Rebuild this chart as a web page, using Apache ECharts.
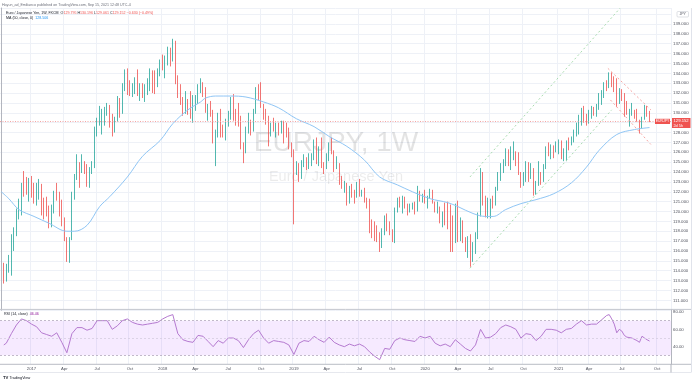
<!DOCTYPE html>
<html>
<head>
<meta charset="utf-8">
<script src="https://cdn.jsdelivr.net/npm/echarts@6/dist/echarts.min.js"></script>
<style>
html,body{margin:0;padding:0;background:#ffffff;}
#chart{width:695px;height:384px;}
</style>
</head>
<body>
<div id="chart"></div>
<script>
// ---------------- data ----------------
const firstWeek = '2016-10-10';
const totalWeeks = 266;           // 258 weekly bars + empty space on the right

const openP = [null,
114.4,113.1,114.3,114.9,116.5,117.9,119.9,120.8,122.6,122.4,
122.3,123.0,122.4,121.6,121.9,122.3,120.8,120.5,120.3,118.8,
120.5,121.9,121.5,119.9,118.6,117.1,115.4,117.2,121.4,123.4,
124.2,124.1,124.6,124.3,123.6,124.3,124.6,128.1,129.0,129.4,
129.7,130.0,130.4,128.8,128.4,129.4,130.7,130.0,132.6,134.2,
132.8,132.1,132.5,133.2,132.0,132.2,132.1,132.3,132.7,133.8,
133.2,132.8,134.0,135.2,135.0,135.5,136.4,135.4,137.2,133.3,
132.1,131.0,130.5,130.8,130.5,129.9,131.0,131.3,132.6,132.9,
132.2,130.1,130.2,130.0,127.5,127.8,129.6,128.3,128.1,129.3,
130.0,131.3,129.9,129.6,129.3,126.7,126.2,128.4,128.9,128.7,
130.1,132.4,131.9,130.7,129.9,129.3,127.9,128.6,128.5,128.6,
128.5,128.6,128.3,128.2,126.6,126.3,124.0,124.4,124.3,124.6,
125.2,124.7,124.7,125.5,127.0,124.9,126.4,124.7,124.6,125.6,
126.8,126.1,124.6,124.6,123.3,122.6,122.7,120.9,122.3,121.7,
121.6,122.6,121.8,122.1,121.1,120.6,118.5,118.1,117.9,117.8,
116.8,117.9,119.4,118.6,117.9,117.1,120.1,121.2,120.6,120.9,
120.6,120.4,120.4,120.7,120.2,122.0,121.3,121.5,121.0,121.3,
122.1,120.9,120.2,120.3,118.9,119.7,119.1,118.7,118.6,117.3,
120.1,117.4,119.0,117.0,116.3,117.4,115.6,115.9,117.3,119.7,
123.7,120.8,119.5,120.3,120.9,120.8,122.3,123.7,124.7,124.9,
126.2,124.7,125.4,125.7,125.6,123.8,122.8,123.3,124.9,123.5,
124.2,121.9,122.7,123.7,123.1,124.5,126.3,126.0,126.5,126.2,
126.2,127.0,125.5,126.3,127.0,126.8,127.1,127.8,128.8,129.0,
130.3,129.6,129.2,130.1,130.4,130.3,130.5,131.4,132.1,132.9,
132.6,133.9,133.3,132.9,131.0,132.2,131.7,130.7,129.9,130.1,
130.2,129.6,129.2,128.5,129.5,130.3,129.795];

const highP = [null,
114.8,114.7,115.6,117.7,118.4,120.3,121.3,122.9,124.1,123.5,
123.4,123.6,122.9,122.9,123.3,122.8,121.4,121.5,120.6,120.7,
122.1,122.9,122.0,121.2,119.4,117.4,117.4,122.0,123.8,125.8,
125.0,125.8,125.1,124.8,124.5,125.1,128.6,129.5,130.7,130.4,
130.6,131.0,130.8,129.9,129.6,131.7,131.5,133.0,134.4,134.5,
133.3,133.0,133.6,134.4,133.0,133.0,132.9,133.5,134.5,134.3,
134.3,134.5,135.4,135.9,135.8,136.7,136.6,137.5,137.3,133.8,
132.9,131.6,132.2,131.4,132.2,131.8,131.8,132.9,133.5,133.1,
132.6,130.9,131.2,130.3,128.3,130.0,130.4,128.8,129.4,130.2,
131.6,131.9,130.4,131.0,129.7,127.0,128.6,130.0,129.3,130.4,
132.6,132.9,133.1,130.9,130.4,129.7,129.0,129.5,129.0,129.0,
129.2,129.2,129.0,128.5,127.0,126.3,125.1,124.9,125.2,125.8,
125.5,125.9,125.9,127.3,127.5,126.6,127.5,125.0,125.9,127.0,
127.5,126.2,125.6,124.9,123.6,123.1,122.9,122.6,122.8,122.2,
123.0,123.3,122.2,122.4,121.4,121.3,119.2,119.0,118.6,117.9,
118.3,119.6,119.8,119.0,118.2,120.4,121.4,121.5,121.6,121.5,
120.8,120.8,120.9,121.0,122.6,122.1,121.8,122.2,121.6,122.3,
122.2,121.0,121.0,120.5,120.0,120.9,121.0,120.7,119.6,120.8,
121.1,119.4,119.1,117.4,117.5,117.7,116.9,117.9,119.9,124.4,
124.0,121.6,121.4,121.3,121.6,122.5,124.0,124.9,125.3,126.4,
126.3,126.6,127.1,126.1,126.0,124.0,124.0,125.1,125.0,124.9,
124.4,123.1,125.1,124.0,124.8,126.6,127.0,126.8,126.7,127.1,
127.3,127.2,126.4,127.2,127.5,127.6,128.3,129.0,129.8,130.5,
130.7,129.9,130.3,130.7,130.6,130.9,132.0,132.3,133.1,133.3,
134.1,134.1,133.7,133.5,132.5,132.4,132.0,131.2,130.4,131.0,
130.3,130.4,129.3,129.6,130.8,130.7,130.196];

const lowP = [null,
112.7,112.9,113.8,113.5,116.0,117.5,119.2,119.6,121.5,121.7,
121.0,121.4,120.8,120.6,121.2,119.6,119.2,119.5,118.3,118.4,
119.8,121.1,119.5,118.5,117.0,114.9,114.8,117.1,121.2,123.2,
122.4,123.9,123.8,122.5,122.4,123.8,124.4,127.6,128.7,127.8,
128.7,129.7,128.5,127.6,128.0,129.1,129.5,129.9,132.2,131.8,
131.7,131.6,131.9,131.7,131.2,131.5,131.1,131.8,132.2,132.0,
131.9,132.6,133.7,134.3,133.5,134.8,134.7,135.2,132.9,131.5,
130.8,129.7,129.9,129.8,129.4,129.0,130.2,130.9,132.0,131.6,
130.0,129.2,129.6,126.9,124.6,127.5,127.5,127.5,127.2,128.6,
129.3,129.2,128.7,128.6,126.3,124.9,125.9,127.9,127.7,128.1,
129.9,131.3,130.5,129.3,128.8,126.6,127.6,128.1,127.5,127.7,
127.9,126.9,127.5,126.3,125.5,118.7,123.7,123.0,123.3,124.5,
124.2,124.3,124.6,125.2,124.8,124.6,124.4,123.8,124.3,125.1,
125.8,124.0,124.3,122.7,122.3,121.9,120.6,120.8,121.4,120.8,
121.4,121.5,121.5,120.9,120.3,117.8,117.3,117.0,116.9,115.9,
116.3,117.6,118.0,117.6,116.9,116.8,119.9,120.4,119.8,120.3,
119.6,119.9,120.2,119.7,120.0,121.0,120.9,120.8,120.3,121.3,
120.8,119.9,119.8,118.8,118.4,118.6,118.2,115.9,115.9,116.8,
116.9,117.0,116.8,115.9,115.3,114.4,114.9,115.7,117.2,119.5,
120.6,119.4,119.3,119.3,120.3,120.6,122.1,123.1,123.9,124.6,
124.6,124.2,125.2,124.6,123.7,122.4,122.6,123.0,123.0,123.3,
121.6,121.7,122.6,122.7,123.0,124.3,125.6,125.3,125.4,126.0,
125.8,125.3,125.1,125.1,126.2,126.7,127.0,127.6,127.8,128.7,
129.0,128.7,128.9,129.4,129.7,129.6,130.3,130.8,131.5,132.2,
132.5,132.6,132.1,130.6,130.9,131.2,129.6,129.8,128.6,129.7,
129.4,129.1,127.9,128.4,129.3,129.6,129.061];

const closeP = [null,
113.1,114.3,114.9,116.5,117.9,119.9,120.8,122.6,122.4,122.3,
123.0,122.4,121.6,121.9,122.3,120.8,120.5,120.3,118.8,120.5,
121.9,121.5,119.9,118.6,117.1,115.4,117.1,121.4,123.4,124.2,
124.1,124.6,124.3,123.6,124.3,124.6,128.1,129.0,129.4,129.7,
130.0,130.4,128.8,128.4,129.4,130.7,130.0,132.6,134.2,132.8,
132.1,132.5,133.2,132.0,132.2,132.1,132.3,132.7,133.8,133.2,
132.8,134.0,135.2,135.0,135.5,136.4,135.4,137.2,133.3,132.1,
131.0,130.5,130.8,130.5,129.9,131.0,131.3,132.6,132.9,132.2,
130.1,130.2,130.0,127.5,127.8,129.6,128.3,128.1,129.3,130.0,
131.3,129.9,129.6,129.3,126.7,126.2,128.4,128.9,128.7,130.1,
132.4,131.9,130.7,129.9,129.3,127.9,128.6,128.5,128.6,128.5,
128.6,128.3,128.2,126.6,126.3,124.0,124.4,124.3,124.6,125.2,
124.7,124.7,125.5,127.0,124.9,126.4,124.7,124.6,125.6,126.8,
126.1,124.6,124.6,123.3,122.6,122.7,120.9,122.3,121.7,121.6,
122.6,121.8,122.1,121.1,120.6,118.5,118.1,117.9,117.8,116.8,
117.9,119.4,118.6,117.9,117.1,120.1,121.2,120.6,120.9,120.6,
120.4,120.4,120.7,120.2,122.0,121.3,121.5,121.0,121.3,122.1,
120.9,120.2,120.3,118.9,119.7,119.1,118.7,118.6,117.3,120.1,
117.4,119.0,117.0,116.3,117.4,115.6,115.9,117.3,119.7,123.7,
120.8,119.5,120.3,120.9,120.8,122.3,123.7,124.7,124.9,126.2,
124.7,125.4,125.7,125.6,123.8,122.8,123.3,124.9,123.5,124.2,
121.9,122.7,123.7,123.1,124.5,126.3,126.0,126.5,126.2,126.2,
127.0,125.5,126.3,127.0,126.8,127.1,127.8,128.8,129.0,130.3,
129.6,129.2,130.1,130.4,130.3,130.5,131.4,132.1,132.9,132.6,
133.9,133.3,132.9,131.0,132.2,131.7,130.7,129.9,130.1,130.2,
129.6,129.2,128.5,129.5,130.3,129.8,129.152];

// MA (50, close): week index -> value
const maWeek  = [0,3,7,13,19,26,29,34,39,43,50,56,63,68,74,79,81,85,91,97,104,110,117,124,130,137,144,150,157,163,170,177,181,187,192,195,200,206,212,219,226,232,237,244,251,257];
const maValue = [122.0,121.3,120.2,119.5,118.8,118.0,118.0,118.6,120.5,121.5,123.5,125.6,127.2,128.9,130.3,131.1,131.5,131.7,131.7,131.6,131.1,130.5,129.4,128.6,127.6,126.6,125.2,123.5,122.7,122.0,121.3,120.9,120.5,119.8,119.5,119.5,120.2,120.8,121.2,121.8,122.9,124.5,126.2,127.8,128.3,128.506];

// RSI (14, close): week index -> value
const rsiWeek = [1,2,4,6,8,10,12,14,16,18,20,22,24,26,28,30,32,34,36,38,40,42,44,46,48,50,52,54,56,58,60,62,64,66,68,70,72,74,76,78,80,82,84,86,88,90,92,94,96,98,100,102,104,106,108,110,112,114,116,118,120,122,124,126,128,130,132,134,136,138,140,142,144,146,148,150,152,154,156,158,160,162,164,166,168,170,172,174,176,178,180,182,184,186,188,190,192,194,196,198,200,202,204,206,208,210,212,214,216,218,220,222,224,226,228,230,232,234,236,238,240,241,242,243,244,245,246,247,248,250,252,253,254,255,256,257];
const rsiValue = [42,44,55,65,72,70,66,63,56,54,52,56,45,33,55,62,62,59,61,70,70,70,60,64,70,72,68,66,65,66,67,68,72,75,77,55,48,46,45,53,52,46,40,47,44,50,50,47,39,48,55,59,50,44,47,46,45,42,31,44,47,46,52,48,45,51,45,42,40,43,41,43,40,34,29,25,38,37,47,50,48,47,46,52,50,52,44,41,43,40,48,43,38,35,42,60,50,51,55,62,65,63,60,50,55,54,47,52,60,60,59,56,60,61,66,70,65,66,66,71,76,77,72,66,56,60,58,53,51,50,47,45,52,50,48,46.46];

// hand-drawn trend lines (week index, price)
const greenLowerLine = [[185.8,114.25],[242.0,130.3]];
const greenUpperLine = [[185.8,123.5],[245.3,140.6]];
const redUpperLine   = [[240.5,134.5],[257.5,130.3]];
const redLowerLine   = [[241.5,131.3],[257.5,126.8]];

// time-axis tick labels
const timeLabelDates = ['2017-01-01','2017-04-01','2017-07-01','2017-10-01','2018-01-01','2018-04-01','2018-07-01','2018-10-01','2019-01-01','2019-04-01','2019-07-01','2019-10-01','2020-01-01','2020-04-01','2020-07-01','2020-10-01','2021-01-01','2021-04-01','2021-07-01','2021-10-01'];
const timeLabelTexts = ['2017','Apr','Jul','Oct','2018','Apr','Jul','Oct','2019','Apr','Jul','Oct','2020','Apr','Jul','Oct','2021','Apr','Jul','Oct'];

const rsiLevels = [30, 50, 70];
const legendValues = { open: '129.795', high: '130.196', low: '129.061', close: '129.152', change: '\u22120.630 (\u22120.49%)', ma: '128.506', rsi: '46.46' };

// ---------------- build ----------------
const FONT = 'Liberation Sans, Arial, sans-serif';
const dayMs = 864e5;
const t0 = Date.parse(firstWeek + 'T00:00:00Z');
const categories = [];
for (let i = 0; i < totalWeeks; i++) categories.push(new Date(t0 + i * 7 * dayMs).toISOString().slice(0, 10));

const labelAt = {};
timeLabelDates.forEach((d, k) => {
  const t = Date.parse(d + 'T00:00:00Z');
  labelAt[Math.round((t - t0) / (7 * dayMs))] = timeLabelTexts[k];
});
const showTick = (i) => labelAt[i] !== undefined;

const candles = closeP.map((c, i) => c == null ? ['-', '-', '-', '-'] : [openP[i], c, lowP[i], highP[i]]);
const maData = maWeek.map((w, k) => [w, maValue[k]]);
const rsiData = rsiWeek.map((w, k) => [w, rsiValue[k]]);
const lastClose = closeP[closeP.length - 1];

const GRID_COLOR = '#eef1f7';
const UP = '#26a69a', DOWN = '#ef5350';

const trend = (data, color) => ({
  type: 'line', xAxisIndex: 2, yAxisIndex: 0, data: data, showSymbol: false, silent: true, z: 4,
  lineStyle: { color: color, width: 1, type: [2, 2.5] }, clip: true
});

const option = {
  animation: false,
  backgroundColor: '#ffffff',
  textStyle: { fontFamily: FONT },
  grid: [
    { left: 0, right: 24, top: 8, height: 302.2, containLabel: false, outerBoundsMode: 'none' },
    { left: 0, right: 24, top: 309.4, height: 54.6, containLabel: false, outerBoundsMode: 'none' }
  ],
  xAxis: [
    { type: 'category', gridIndex: 0, data: categories, boundaryGap: true,
      axisLine: { show: false }, axisTick: { show: false },
      axisLabel: { show: false, interval: showTick },
      splitLine: { show: true, interval: showTick, lineStyle: { color: GRID_COLOR, width: 1 } } },
    { type: 'category', gridIndex: 1, data: categories, boundaryGap: true,
      axisLine: { show: false }, axisTick: { show: false },
      axisLabel: { show: true, interval: showTick, formatter: (v, i) => labelAt[i] || '', fontSize: 4.2, color: '#50535e', margin: 2.5, fontFamily: FONT },
      splitLine: { show: true, interval: showTick, lineStyle: { color: GRID_COLOR, width: 1 } } },
    { type: 'value', gridIndex: 0, min: -0.5, max: totalWeeks - 0.5, show: false }
  ],
  yAxis: [
    { type: 'value', gridIndex: 0, position: 'right', min: 110, max: 140.62, interval: 1,
      axisLine: { show: true, lineStyle: { color: '#b2b5be', width: 1 } }, axisTick: { show: false },
      axisLabel: { formatter: (v) => (v >= 111 && v <= 139 && Math.abs(v - Math.round(v)) < 1e-6) ? v.toFixed(3) : '',
                   fontSize: 4.3, color: '#50535e', margin: 2, fontFamily: FONT },
      splitLine: { show: true, lineStyle: { color: GRID_COLOR, width: 1 } } },
    { type: 'value', gridIndex: 1, position: 'right', min: 20, max: 83, interval: 20,
      axisLine: { show: true, lineStyle: { color: '#b2b5be', width: 1 } }, axisTick: { show: false },
      axisLabel: { formatter: (v) => (v === 40 || v === 60 || v === 80) ? v.toFixed(2) : '',
                   fontSize: 4.3, color: '#50535e', margin: 2, fontFamily: FONT },
      splitLine: { show: false } }
  ],
  series: [
    { type: 'candlestick', xAxisIndex: 0, yAxisIndex: 0, data: candles, barWidth: 1.3, z: 3,
      itemStyle: { color: UP, color0: DOWN, borderColor: UP, borderColor0: DOWN, borderWidth: 0.8 },
      markLine: { silent: true, symbol: 'none', label: { show: false },
        lineStyle: { color: '#f4a6a4', type: [1, 1.5], width: 1 }, data: [{ yAxis: lastClose }] } },
    { type: 'line', xAxisIndex: 0, yAxisIndex: 0, data: maData, smooth: 0.35, connectNulls: true,
      showSymbol: false, silent: true, z: 4, lineStyle: { color: '#90c6f5', width: 1 } },
    trend(greenLowerLine, '#a9dbb0'),
    trend(greenUpperLine, '#a9dbb0'),
    trend(redUpperLine, '#f5a5a3'),
    trend(redLowerLine, '#f5a5a3'),
    { type: 'line', xAxisIndex: 1, yAxisIndex: 1, data: rsiData, showSymbol: false, silent: true, z: 4,
      lineStyle: { color: '#b57ad0', width: 1 },
      markArea: { silent: true, itemStyle: { color: 'rgba(153,21,255,0.09)' },
        data: [[{ yAxis: rsiLevels[0] }, { yAxis: rsiLevels[2] }]] },
      markLine: { silent: true, symbol: 'none', label: { show: false },
        data: [
          { yAxis: rsiLevels[0], lineStyle: { color: '#b3a9bd', type: [2, 2], width: 0.8 } },
          { yAxis: rsiLevels[1], lineStyle: { color: '#d6cde0', type: [2, 2], width: 0.8 } },
          { yAxis: rsiLevels[2], lineStyle: { color: '#b3a9bd', type: [2, 2], width: 0.8 } }
        ] } }
  ]
};

const chart = echarts.init(document.getElementById('chart'), null, { renderer: 'canvas' });
chart.setOption(option);

const py = chart.convertToPixel({ yAxisIndex: 0 }, lastClose);
const txt = (x, y, text, size, fill, extra, z) => Object.assign({ type: 'text', x: x, y: y, silent: true, z: z || 10,
  style: Object.assign({ text: text, fontSize: size, fontFamily: FONT, fill: fill, verticalAlign: 'middle', align: 'left' }, extra || {}) });

const R = '#ef5350', D = '#131722';
chart.setOption({
  graphic: [
    // watermark
    txt(336, 143, 'EURJPY, 1W', 28, 'rgba(0,0,0,0.11)', { align: 'center' }, 1),
    txt(336, 177, 'Euro / Japanese Yen', 14.5, 'rgba(0,0,0,0.08)', { align: 'center' }, 1),
    // header
    txt(2, 4.8, 'Hayun_ad_Emilianco published on TradingView.com, Sep 15, 2021 12:48 UTC-4', 3.6, '#6a6d78'),
    { type: 'text', x: 6, y: 12.7, silent: true, z: 10, style: {
        text: '{d|Euro / Japanese Yen, 1W, FXCM  O}{r|' + legendValues.open + '} {d|H}{r|' + legendValues.high + '} {d|L}{r|' + legendValues.low + '} {d|C}{r|' + legendValues.close + '} {r|' + legendValues.change + '}',
        verticalAlign: 'middle', fontFamily: FONT, fontSize: 3.6,
        rich: { d: { fill: D, fontSize: 3.6, fontFamily: FONT }, r: { fill: R, fontSize: 3.6, fontFamily: FONT } } } },
    { type: 'text', x: 6, y: 17.6, silent: true, z: 10, style: {
        text: '{d|MA (50, close, 0)  }{b|' + legendValues.ma + '}', verticalAlign: 'middle', fontFamily: FONT, fontSize: 3.6,
        rich: { d: { fill: D, fontSize: 3.6, fontFamily: FONT }, b: { fill: '#2196f3', fontSize: 3.6, fontFamily: FONT } } } },
    { type: 'text', x: 4, y: 314, silent: true, z: 10, style: {
        text: '{d|RSI (14, close)  }{p|' + legendValues.rsi + '}', verticalAlign: 'middle', fontFamily: FONT, fontSize: 3.6,
        rich: { d: { fill: D, fontSize: 3.6, fontFamily: FONT }, p: { fill: '#8e1599', fontSize: 3.6, fontFamily: FONT } } } },
    // JPY box
    { type: 'rect', silent: true, z: 10, shape: { x: 677, y: 11.5, width: 11.5, height: 5.5, r: 1 }, style: { fill: '#fff', stroke: '#c9ccd4', lineWidth: 0.6 } },
    txt(682.7, 14.3, 'JPY', 3.6, '#50535e', { align: 'center' }, 11),
    // pane frames
    { type: 'line', silent: true, z: 10, shape: { x1: 0, y1: 309.4, x2: 691, y2: 309.4 }, style: { stroke: '#c3c6ce', lineWidth: 1 } },
    { type: 'line', silent: true, z: 10, shape: { x1: 0, y1: 364.3, x2: 691, y2: 364.3 }, style: { stroke: '#b9bcc4', lineWidth: 1 } },
    { type: 'line', silent: true, z: 10, shape: { x1: 0, y1: 372.5, x2: 691, y2: 372.5 }, style: { stroke: '#e6e8ee', lineWidth: 1 } },
    { type: 'line', silent: true, z: 10, shape: { x1: 671, y1: 364, x2: 671, y2: 372.5 }, style: { stroke: '#b2b5be', lineWidth: 1 } },
    { type: 'line', silent: true, z: 10, shape: { x1: 691.5, y1: 8, x2: 691.5, y2: 372.5 }, style: { stroke: '#e0e3eb', lineWidth: 1 } },
    // price labels
    { type: 'rect', silent: true, z: 20, shape: { x: 655, y: py - 2.4, width: 15, height: 5.2 }, style: { fill: R } },
    txt(662.5, py + 0.2, 'EURJPY', 3.4, '#ffffff', { align: 'center' }, 21),
    { type: 'rect', silent: true, z: 20, shape: { x: 672, y: py - 3.2, width: 18.5, height: 10 }, style: { fill: R } },
    txt(673.5, py + 0.1, legendValues.close, 4.2, '#ffffff', null, 21),
    txt(673.5, py + 4.3, '2d 5h', 3.8, '#ffffff', null, 21),
    // footer logo
    { type: 'text', x: 3, y: 378, silent: true, z: 10, style: {
        text: '{l|TV} {t|TradingView}', verticalAlign: 'middle', fontFamily: FONT, fontSize: 3.8,
        rich: { l: { fill: '#131722', fontSize: 4.2, fontWeight: 'bold', fontFamily: FONT }, t: { fill: '#131722', fontSize: 3.8, fontFamily: FONT } } } }
  ]
});
</script>
</body>
</html>
